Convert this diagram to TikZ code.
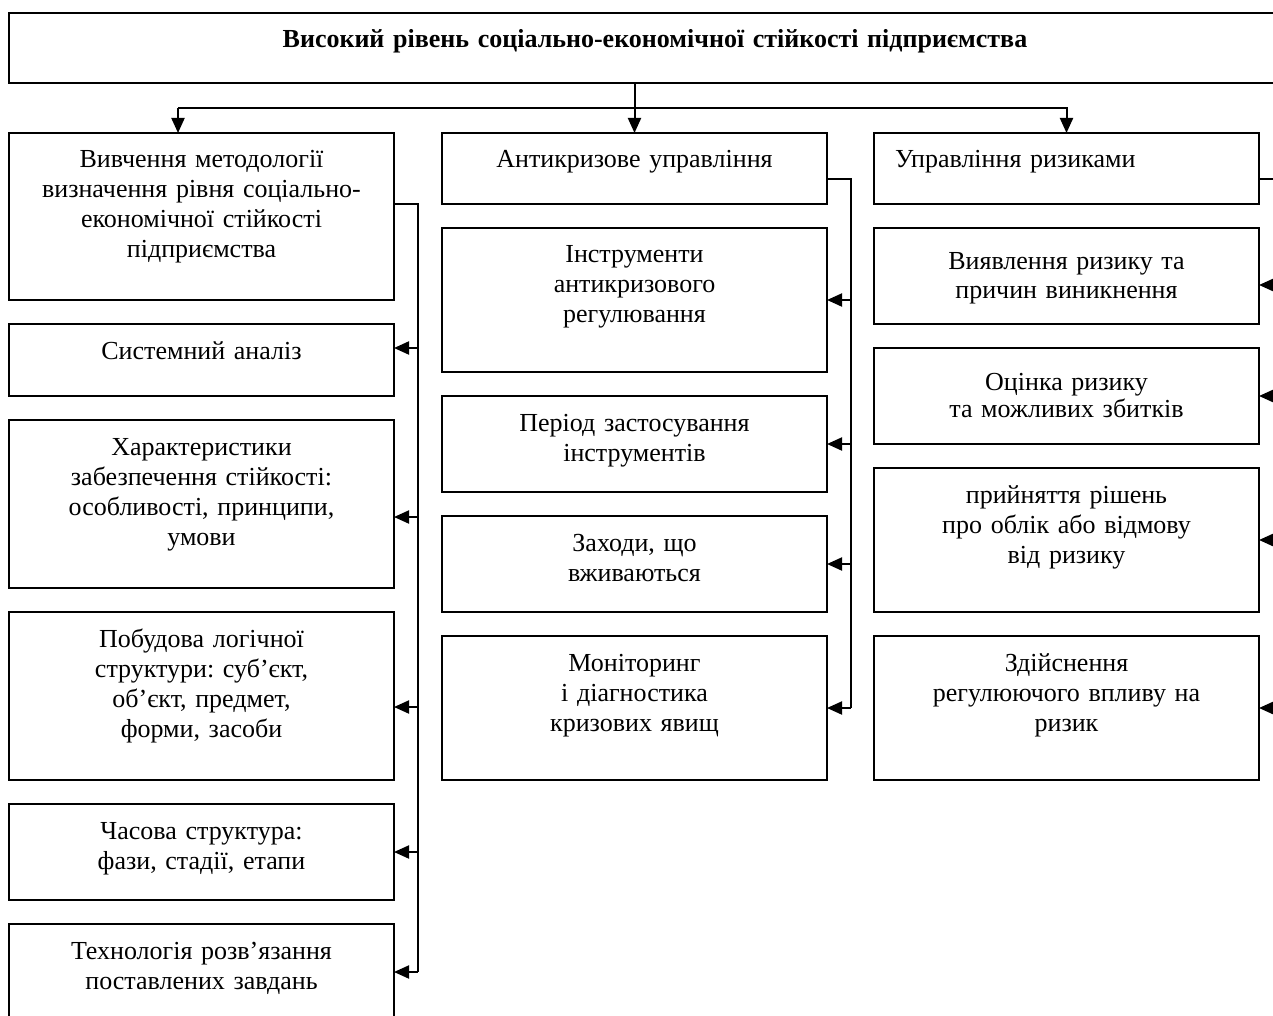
\documentclass[tikz,border=0pt]{standalone}
\usepackage{fontspec}
\setmainfont{Liberation Serif}
\frenchspacing
\usepackage{tikz}
\usetikzlibrary{arrows.meta, positioning}

\begin{document}
\begin{tikzpicture}[
            node distance=12pt,
            box/.style={rectangle, draw=black, line width=1pt, minimum width=192.5pt, text width=185pt, align=center, inner sep=0pt, outer sep=0pt, text height=17.5pt, font=\fontsize{13pt}{15pt}\selectfont},
            tall/.style={minimum height=#1, text depth={#1-17.5pt}},
            lower/.style={text height=21pt, text depth={#1-21pt}},
            arrow/.style={line width=1pt, -{Triangle[length=7.5pt, width=6.5pt]}},
            feed/.style={line width=1pt, {Triangle[length=7.5pt, width=6.5pt]}-}
            ]
            \useasboundingbox (0,0) rectangle (636.5pt,-508pt);
            \clip (0,0) rectangle (636.5pt,-508pt);

            % goal
            \node (goal) [box, tall=35pt, minimum width=646pt, text width=600pt, anchor=north west, font=\fontsize{13pt}{15pt}\selectfont\bfseries] at (4.5pt,-6.5pt) {Високий рівень соціально-економічної стійкості підприємства};

            % left column
            \node (method) [box, tall=83.5pt, anchor=north west] at (4.5pt,-66.5pt) {Вивчення методології\\ визначення рівня соціально-\\ економічної стійкості\\ підприємства};
            \node (sysan) [box, tall=36pt, below=of method] {Системний аналіз};
            \node (traits) [box, tall=84pt, below=of sysan] {Характеристики\\ забезпечення стійкості:\\ особливості, принципи,\\ умови};
            \node (logic) [box, tall=84pt, below=of traits] {Побудова логічної\\ структури: суб’єкт,\\ об’єкт, предмет,\\ форми, засоби};
            \node (timing) [box, tall=48pt, below=of logic] {Часова структура:\\ фази, стадії, етапи};
            \node (techn) [box, tall=48pt, below=of timing] {Технологія розв’язання\\ поставлених завдань};

            % middle column
            \node (crisis) [box, tall=35.5pt, anchor=north west] at (221pt,-66.5pt) {Антикризове управління};
            \node (tools) [box, tall=72pt, below=of crisis] {Інструменти\\ антикризового\\ регулювання};
            \node (period) [box, tall=48pt, below=of tools] {Період застосування\\ інструментів};
            \node (measures) [box, tall=48pt, below=of period] {Заходи, що\\ вживаються};
            \node (monitor) [box, tall=72pt, below=of measures] {Моніторинг\\ і діагностика\\ кризових явищ};

            % right column
            \node (risk) [box, tall=35.5pt, text width=171.5pt, align=left, anchor=north west] at (437pt,-66.5pt) {Управління ризиками};
            \node (detect) [box, tall=48pt, lower=48pt, below=of risk] {Виявлення ризику та\\[-1pt] причин виникнення};
            \node (assess) [box, tall=48pt, lower=48pt, below=of detect] {Оцінка ризику\\[-1.5pt] та можливих збитків};
            \node (decide) [box, tall=72pt, below=of assess] {прийняття рішень\\ про облік або відмову\\ від ризику};
            \node (regul) [box, tall=72pt, below=of decide] {Здійснення\\ регулюючого впливу на\\ ризик};

            % top connectors
            \coordinate (bus) at (0,-54pt);
            \coordinate (mtop) at ([xshift=-11.75pt]method.north);
            \draw [arrow] (goal.south -| crisis.north) -- (crisis.north);
            \draw [arrow] (mtop |- bus) -- (mtop);
            \draw [arrow] (mtop |- bus) -| (risk.north);

            % side buses
            \draw [line width=1pt] ([yshift=6.25pt]method.east) -| ([xshift=12pt]techn.east);
            \foreach \n/\s in {sysan/6pt, traits/-6.5pt, logic/-5.5pt, timing/0pt, techn/0pt}
                \draw [feed] ([yshift=\s]\n.east) -- ++(12pt,0);

            \draw [line width=1pt] ([yshift=-5.5pt]crisis.east) -| ([xshift=12pt]monitor.east);
            \foreach \n in {tools, period, measures, monitor}
                \draw [feed] (\n.east) -- ++(12pt,0);

            \draw [line width=1pt] ([yshift=-5.5pt]risk.east) -| ([xshift=12pt]regul.east);
            \foreach \n/\s in {detect/-4.5pt, assess/0pt, decide/0pt, regul/0pt}
                \draw [feed] ([yshift=\s]\n.east) -- ++(12pt,0);
\end{tikzpicture}
\end{document}
